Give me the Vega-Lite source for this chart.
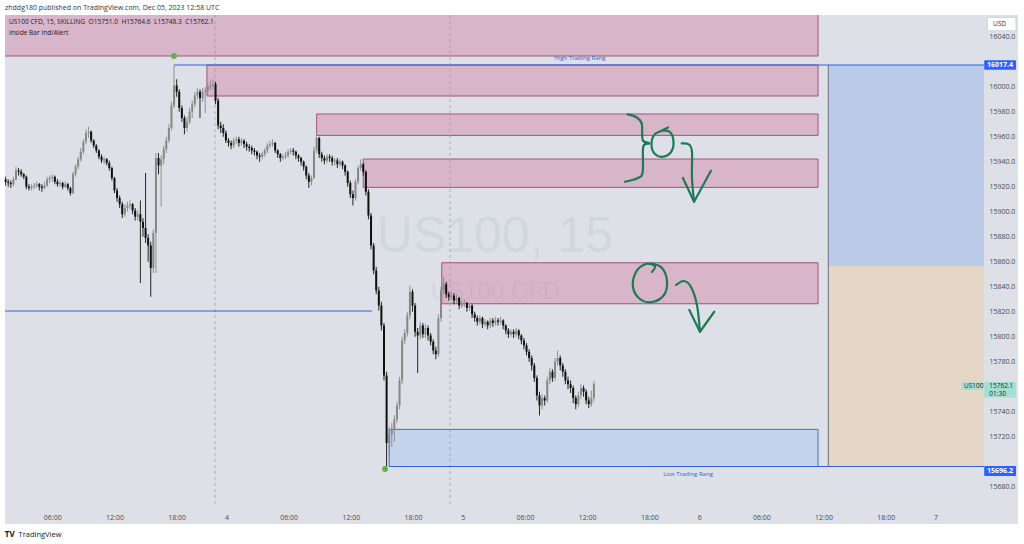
{
"$schema": "https://vega.github.io/schema/vega-lite/v6.json",
"width": 979, "height": 490,
"autosize": "none",
"padding": {"left": 5, "top": 15, "right": 40, "bottom": 39},
"background": "#ffffff",
"title": {"text": "zhddg180 published on TradingView.com, Dec 05, 2023 12:58 UTC", "anchor": "start", "frame": "group", "offset": 4, "fontSize": 7, "fontWeight": "normal", "color": "#333333", "font": "Open Sans"},
"config": {"view": {"stroke": null}, "font": "Open Sans", "axis": {"labelOverlap": false, "labelFlush": false, "labelBound": false}},
"datasets": {
"panel": [{"t0": 1.44, "t1": 99.16, "p0": 15650.2, "p1": 16057.4}],
"zones": [
{"kind": "supply", "t0": -5, "t1": 79.87, "p0": 16024.6, "p1": 16075},
{"kind": "supply", "t0": 20.92, "t1": 79.87, "p0": 15992.6, "p1": 16017.4},
{"kind": "supply", "t0": 31.5, "t1": 79.87, "p0": 15961.1, "p1": 15978.2},
{"kind": "supply", "t0": 36.0, "t1": 79.87, "p0": 15919.5, "p1": 15942.2},
{"kind": "supply", "t0": 43.57, "t1": 79.87, "p0": 15826.4, "p1": 15859.2},
{"kind": "demand", "t0": 38.5, "t1": 79.87, "p0": 15696.2, "p1": 15725.9},
{"kind": "target", "t0": 80.86, "t1": 95.88, "p0": 15856.6, "p1": 16017.4},
{"kind": "stop", "t0": 80.86, "t1": 95.88, "p0": 15696.2, "p1": 15856.6}
],
"levels": [
{"name": "high", "t0": 17.74, "t1": 95.88, "p": 16017.4},
{"name": "low", "t0": 38.5, "t1": 95.88, "p": 15696.2},
{"name": "mid", "t0": 1.44, "t1": 36.84, "p": 15820.6}
],
"edge": [{"t": 80.86, "p0": 15696.2, "p1": 16017.4}],
"days": [{"t": 21.7}, {"t": 44.37}],
"pivots": [{"t": 17.74, "p": 16024.6}, {"t": 38.1, "p": 15694.2}],
"candles": [
{"t":1.5,"o":15926,"h":15928,"l":15921,"c":15924},
{"t":1.75,"o":15924,"h":15926,"l":15920,"c":15923},
{"t":2,"o":15923,"h":15925,"l":15919,"c":15922},
{"t":2.25,"o":15922,"h":15928,"l":15920,"c":15926},
{"t":2.5,"o":15926,"h":15936,"l":15925,"c":15933},
{"t":2.75,"o":15933,"h":15935,"l":15929,"c":15932},
{"t":3,"o":15932,"h":15934,"l":15928,"c":15930},
{"t":3.25,"o":15930,"h":15931,"l":15926,"c":15928},
{"t":3.5,"o":15928,"h":15929,"l":15918,"c":15920},
{"t":3.75,"o":15920,"h":15922,"l":15917,"c":15919},
{"t":4,"o":15919,"h":15922,"l":15917,"c":15920},
{"t":4.25,"o":15920,"h":15923,"l":15918,"c":15921},
{"t":4.5,"o":15921,"h":15924,"l":15919,"c":15922},
{"t":4.75,"o":15922,"h":15923,"l":15917,"c":15920},
{"t":5,"o":15920,"h":15922,"l":15916,"c":15919},
{"t":5.25,"o":15919,"h":15924,"l":15918,"c":15921},
{"t":5.5,"o":15921,"h":15928,"l":15920,"c":15926},
{"t":5.75,"o":15926,"h":15929,"l":15923,"c":15927},
{"t":6,"o":15927,"h":15930,"l":15924,"c":15928},
{"t":6.25,"o":15928,"h":15929,"l":15922,"c":15924},
{"t":6.5,"o":15924,"h":15926,"l":15920,"c":15922},
{"t":6.75,"o":15922,"h":15925,"l":15920,"c":15923},
{"t":7,"o":15923,"h":15924,"l":15918,"c":15920},
{"t":7.25,"o":15920,"h":15924,"l":15919,"c":15922},
{"t":7.5,"o":15922,"h":15923,"l":15917,"c":15919},
{"t":7.75,"o":15919,"h":15920,"l":15913,"c":15915},
{"t":8,"o":15915,"h":15932,"l":15914,"c":15930},
{"t":8.25,"o":15930,"h":15938,"l":15928,"c":15936},
{"t":8.5,"o":15936,"h":15944,"l":15934,"c":15942},
{"t":8.75,"o":15942,"h":15951,"l":15940,"c":15948},
{"t":9,"o":15948,"h":15958,"l":15946,"c":15956},
{"t":9.25,"o":15956,"h":15966,"l":15954,"c":15963},
{"t":9.5,"o":15963,"h":15968,"l":15959,"c":15964},
{"t":9.75,"o":15964,"h":15965,"l":15955,"c":15957},
{"t":10,"o":15957,"h":15958,"l":15951,"c":15953},
{"t":10.25,"o":15953,"h":15954,"l":15947,"c":15949},
{"t":10.5,"o":15949,"h":15950,"l":15942,"c":15944},
{"t":10.75,"o":15944,"h":15946,"l":15939,"c":15941},
{"t":11,"o":15941,"h":15944,"l":15938,"c":15942},
{"t":11.25,"o":15942,"h":15943,"l":15937,"c":15939},
{"t":11.5,"o":15939,"h":15941,"l":15933,"c":15935},
{"t":11.75,"o":15935,"h":15936,"l":15925,"c":15927},
{"t":12,"o":15927,"h":15928,"l":15915,"c":15917},
{"t":12.25,"o":15917,"h":15919,"l":15908,"c":15911},
{"t":12.5,"o":15911,"h":15913,"l":15903,"c":15906},
{"t":12.75,"o":15906,"h":15908,"l":15895,"c":15898},
{"t":13,"o":15898,"h":15906,"l":15896,"c":15903},
{"t":13.25,"o":15903,"h":15908,"l":15900,"c":15905},
{"t":13.5,"o":15905,"h":15909,"l":15902,"c":15906},
{"t":13.75,"o":15906,"h":15907,"l":15898,"c":15901},
{"t":14,"o":15901,"h":15903,"l":15893,"c":15896},
{"t":14.25,"o":15896,"h":15901,"l":15893,"c":15898},
{"t":14.5,"o":15898,"h":15909,"l":15843,"c":15892},
{"t":14.75,"o":15892,"h":15895,"l":15880,"c":15887},
{"t":15,"o":15887,"h":15931,"l":15875,"c":15879},
{"t":15.25,"o":15879,"h":15882,"l":15860,"c":15873},
{"t":15.5,"o":15873,"h":15876,"l":15832,"c":15855},
{"t":15.75,"o":15855,"h":15886,"l":15851,"c":15883},
{"t":16,"o":15883,"h":15947,"l":15851,"c":15943},
{"t":16.25,"o":15943,"h":15947,"l":15930,"c":15937},
{"t":16.5,"o":15937,"h":15945,"l":15904,"c":15942},
{"t":16.75,"o":15942,"h":15953,"l":15938,"c":15950},
{"t":17,"o":15950,"h":15960,"l":15947,"c":15957},
{"t":17.25,"o":15957,"h":15970,"l":15955,"c":15967},
{"t":17.5,"o":15967,"h":15988,"l":15965,"c":15985},
{"t":17.75,"o":15985,"h":16017.4,"l":15983,"c":16001},
{"t":18,"o":16001,"h":16006,"l":15992,"c":15996},
{"t":18.25,"o":15996,"h":15998,"l":15980,"c":15983},
{"t":18.5,"o":15983,"h":15985,"l":15972,"c":15975},
{"t":18.75,"o":15975,"h":15977,"l":15962,"c":15967},
{"t":19,"o":15967,"h":15976,"l":15964,"c":15972},
{"t":19.25,"o":15972,"h":15983,"l":15970,"c":15980},
{"t":19.5,"o":15980,"h":15989,"l":15975,"c":15986},
{"t":19.75,"o":15986,"h":15996,"l":15984,"c":15993},
{"t":20,"o":15993,"h":15999,"l":15990,"c":15996},
{"t":20.25,"o":15996,"h":15998,"l":15975,"c":15991},
{"t":20.5,"o":15991,"h":15999,"l":15988,"c":15996},
{"t":20.75,"o":15996,"h":16000,"l":15979,"c":15997},
{"t":21,"o":15997,"h":16003,"l":15994,"c":16000},
{"t":21.25,"o":16000,"h":16005,"l":15997,"c":16001},
{"t":21.5,"o":16001,"h":16006,"l":15998,"c":16002},
{"t":21.75,"o":16002,"h":16004,"l":15986,"c":15989},
{"t":22,"o":15989,"h":15991,"l":15966,"c":15969},
{"t":22.25,"o":15969,"h":15972,"l":15963,"c":15967},
{"t":22.5,"o":15967,"h":15970,"l":15960,"c":15963},
{"t":22.75,"o":15963,"h":15965,"l":15955,"c":15957},
{"t":23,"o":15957,"h":15959,"l":15952,"c":15955},
{"t":23.25,"o":15955,"h":15957,"l":15950,"c":15953},
{"t":23.5,"o":15953,"h":15959,"l":15951,"c":15957},
{"t":23.75,"o":15957,"h":15960,"l":15954,"c":15958},
{"t":24,"o":15958,"h":15960,"l":15952,"c":15955},
{"t":24.25,"o":15955,"h":15959,"l":15953,"c":15957},
{"t":24.5,"o":15957,"h":15958,"l":15951,"c":15954},
{"t":24.75,"o":15954,"h":15956,"l":15949,"c":15952},
{"t":25,"o":15952,"h":15954,"l":15948,"c":15951},
{"t":25.25,"o":15951,"h":15953,"l":15946,"c":15949},
{"t":25.5,"o":15949,"h":15951,"l":15945,"c":15948},
{"t":25.75,"o":15948,"h":15949,"l":15942,"c":15945},
{"t":26,"o":15945,"h":15947,"l":15940,"c":15944},
{"t":26.25,"o":15944,"h":15948,"l":15942,"c":15946},
{"t":26.5,"o":15946,"h":15951,"l":15944,"c":15949},
{"t":26.75,"o":15949,"h":15955,"l":15947,"c":15953},
{"t":27,"o":15953,"h":15957,"l":15951,"c":15954},
{"t":27.25,"o":15954,"h":15958,"l":15952,"c":15955},
{"t":27.5,"o":15955,"h":15956,"l":15947,"c":15949},
{"t":27.75,"o":15949,"h":15950,"l":15943,"c":15946},
{"t":28,"o":15946,"h":15947,"l":15940,"c":15943},
{"t":28.25,"o":15943,"h":15946,"l":15941,"c":15944},
{"t":28.5,"o":15944,"h":15948,"l":15942,"c":15945},
{"t":28.75,"o":15945,"h":15950,"l":15943,"c":15948},
{"t":29,"o":15948,"h":15951,"l":15946,"c":15949},
{"t":29.25,"o":15949,"h":15951,"l":15945,"c":15948},
{"t":29.5,"o":15948,"h":15949,"l":15942,"c":15945},
{"t":29.75,"o":15945,"h":15946,"l":15940,"c":15943},
{"t":30,"o":15943,"h":15944,"l":15937,"c":15940},
{"t":30.25,"o":15940,"h":15941,"l":15933,"c":15936},
{"t":30.5,"o":15936,"h":15937,"l":15926,"c":15929},
{"t":30.75,"o":15929,"h":15931,"l":15919,"c":15924},
{"t":31,"o":15924,"h":15929,"l":15921,"c":15927},
{"t":31.25,"o":15927,"h":15952,"l":15926,"c":15949},
{"t":31.5,"o":15949,"h":15965,"l":15947,"c":15959},
{"t":31.75,"o":15959,"h":15960,"l":15943,"c":15946},
{"t":32,"o":15946,"h":15948,"l":15940,"c":15943},
{"t":32.25,"o":15943,"h":15945,"l":15938,"c":15941},
{"t":32.5,"o":15941,"h":15946,"l":15939,"c":15944},
{"t":32.75,"o":15944,"h":15946,"l":15940,"c":15943},
{"t":33,"o":15943,"h":15945,"l":15937,"c":15940},
{"t":33.25,"o":15940,"h":15943,"l":15937,"c":15941},
{"t":33.5,"o":15941,"h":15943,"l":15935,"c":15938},
{"t":33.75,"o":15938,"h":15942,"l":15936,"c":15940},
{"t":34,"o":15940,"h":15941,"l":15934,"c":15937},
{"t":34.25,"o":15937,"h":15938,"l":15929,"c":15932},
{"t":34.5,"o":15932,"h":15933,"l":15920,"c":15923},
{"t":34.75,"o":15923,"h":15925,"l":15911,"c":15914},
{"t":35,"o":15914,"h":15917,"l":15905,"c":15911},
{"t":35.25,"o":15911,"h":15926,"l":15909,"c":15924},
{"t":35.5,"o":15924,"h":15937,"l":15922,"c":15935},
{"t":35.75,"o":15935,"h":15942,"l":15933,"c":15938},
{"t":36,"o":15938,"h":15939,"l":15929,"c":15932},
{"t":36.25,"o":15932,"h":15933,"l":15913,"c":15916},
{"t":36.5,"o":15916,"h":15918,"l":15894,"c":15897},
{"t":36.75,"o":15897,"h":15899,"l":15870,"c":15873},
{"t":37,"o":15873,"h":15875,"l":15850,"c":15853},
{"t":37.25,"o":15853,"h":15856,"l":15834,"c":15837},
{"t":37.5,"o":15837,"h":15840,"l":15821,"c":15825},
{"t":37.75,"o":15825,"h":15828,"l":15805,"c":15809},
{"t":38,"o":15809,"h":15811,"l":15765,"c":15769},
{"t":38.25,"o":15769,"h":15772,"l":15696.2,"c":15715},
{"t":38.5,"o":15715,"h":15728,"l":15704,"c":15722},
{"t":38.75,"o":15722,"h":15731,"l":15712,"c":15726},
{"t":39,"o":15726,"h":15737,"l":15716,"c":15734},
{"t":39.25,"o":15734,"h":15748,"l":15731,"c":15745},
{"t":39.5,"o":15745,"h":15768,"l":15742,"c":15765},
{"t":39.75,"o":15765,"h":15800,"l":15762,"c":15797},
{"t":40,"o":15797,"h":15806,"l":15794,"c":15803},
{"t":40.25,"o":15803,"h":15820,"l":15800,"c":15817},
{"t":40.5,"o":15817,"h":15841,"l":15814,"c":15836},
{"t":40.75,"o":15836,"h":15838,"l":15820,"c":15825},
{"t":41,"o":15825,"h":15827,"l":15800,"c":15804},
{"t":41.25,"o":15804,"h":15807,"l":15771,"c":15801},
{"t":41.5,"o":15801,"h":15812,"l":15798,"c":15809},
{"t":41.75,"o":15809,"h":15811,"l":15799,"c":15802},
{"t":42,"o":15802,"h":15810,"l":15799,"c":15807},
{"t":42.25,"o":15807,"h":15809,"l":15797,"c":15801},
{"t":42.5,"o":15801,"h":15803,"l":15793,"c":15796},
{"t":42.75,"o":15796,"h":15798,"l":15786,"c":15789},
{"t":43,"o":15789,"h":15792,"l":15782,"c":15786},
{"t":43.25,"o":15786,"h":15818,"l":15784,"c":15815},
{"t":43.5,"o":15815,"h":15840,"l":15812,"c":15837},
{"t":43.75,"o":15837,"h":15848,"l":15834,"c":15842},
{"t":44,"o":15842,"h":15844,"l":15831,"c":15834},
{"t":44.25,"o":15834,"h":15836,"l":15829,"c":15832},
{"t":44.5,"o":15832,"h":15836,"l":15830,"c":15833},
{"t":44.75,"o":15833,"h":15835,"l":15826,"c":15829},
{"t":45,"o":15829,"h":15834,"l":15827,"c":15831},
{"t":45.25,"o":15831,"h":15832,"l":15822,"c":15825},
{"t":45.5,"o":15825,"h":15829,"l":15823,"c":15826},
{"t":45.75,"o":15826,"h":15830,"l":15824,"c":15827},
{"t":46,"o":15827,"h":15828,"l":15820,"c":15823},
{"t":46.25,"o":15823,"h":15827,"l":15821,"c":15825},
{"t":46.5,"o":15825,"h":15826,"l":15815,"c":15818},
{"t":46.75,"o":15818,"h":15820,"l":15812,"c":15815},
{"t":47,"o":15815,"h":15817,"l":15809,"c":15812},
{"t":47.25,"o":15812,"h":15817,"l":15810,"c":15815},
{"t":47.5,"o":15815,"h":15816,"l":15807,"c":15810},
{"t":47.75,"o":15810,"h":15814,"l":15808,"c":15812},
{"t":48,"o":15812,"h":15813,"l":15806,"c":15809},
{"t":48.25,"o":15809,"h":15815,"l":15807,"c":15813},
{"t":48.5,"o":15813,"h":15815,"l":15808,"c":15811},
{"t":48.75,"o":15811,"h":15816,"l":15809,"c":15813},
{"t":49,"o":15813,"h":15815,"l":15809,"c":15812},
{"t":49.25,"o":15812,"h":15816,"l":15810,"c":15813},
{"t":49.5,"o":15813,"h":15814,"l":15806,"c":15809},
{"t":49.75,"o":15809,"h":15810,"l":15802,"c":15805},
{"t":50,"o":15805,"h":15807,"l":15799,"c":15802},
{"t":50.25,"o":15802,"h":15806,"l":15800,"c":15804},
{"t":50.5,"o":15804,"h":15806,"l":15799,"c":15802},
{"t":50.75,"o":15802,"h":15807,"l":15800,"c":15805},
{"t":51,"o":15805,"h":15806,"l":15798,"c":15801},
{"t":51.25,"o":15801,"h":15802,"l":15794,"c":15797},
{"t":51.5,"o":15797,"h":15799,"l":15790,"c":15793},
{"t":51.75,"o":15793,"h":15795,"l":15785,"c":15788},
{"t":52,"o":15788,"h":15790,"l":15780,"c":15783},
{"t":52.25,"o":15783,"h":15785,"l":15773,"c":15777},
{"t":52.5,"o":15777,"h":15779,"l":15764,"c":15767},
{"t":52.75,"o":15767,"h":15769,"l":15749,"c":15753},
{"t":53,"o":15753,"h":15756,"l":15737,"c":15745},
{"t":53.25,"o":15745,"h":15754,"l":15742,"c":15751},
{"t":53.5,"o":15751,"h":15753,"l":15745,"c":15749},
{"t":53.75,"o":15749,"h":15768,"l":15747,"c":15765},
{"t":54,"o":15765,"h":15775,"l":15762,"c":15772},
{"t":54.25,"o":15772,"h":15774,"l":15764,"c":15767},
{"t":54.5,"o":15767,"h":15783,"l":15765,"c":15780},
{"t":54.75,"o":15780,"h":15789,"l":15777,"c":15783},
{"t":55,"o":15783,"h":15785,"l":15773,"c":15777},
{"t":55.25,"o":15777,"h":15779,"l":15768,"c":15772},
{"t":55.5,"o":15772,"h":15774,"l":15762,"c":15765},
{"t":55.75,"o":15765,"h":15768,"l":15758,"c":15762},
{"t":56,"o":15762,"h":15765,"l":15755,"c":15759},
{"t":56.25,"o":15759,"h":15761,"l":15747,"c":15751},
{"t":56.5,"o":15751,"h":15753,"l":15742,"c":15746},
{"t":56.75,"o":15746,"h":15756,"l":15744,"c":15753},
{"t":57,"o":15753,"h":15762,"l":15750,"c":15759},
{"t":57.25,"o":15759,"h":15761,"l":15752,"c":15756},
{"t":57.5,"o":15756,"h":15758,"l":15746,"c":15749},
{"t":57.75,"o":15749,"h":15752,"l":15743,"c":15746},
{"t":58,"o":15746,"h":15757,"l":15744,"c":15751},
{"t":58.25,"o":15751,"h":15764.6,"l":15748.3,"c":15762.1}
],
"ink": [
{"id":"b","i":0,"t":61.51,"p":15977.9},{"id":"b","i":1,"t":62.31,"p":15975.8},{"id":"b","i":2,"t":62.86,"p":15970.7},{"id":"b","i":3,"t":62.96,"p":15957.4},{"id":"b","i":4,"t":63.59,"p":15954.7},{"id":"b","i":5,"t":63.01,"p":15952.0},{"id":"b","i":6,"t":62.96,"p":15932.0},{"id":"b","i":7,"t":62.5,"p":15927.0},{"id":"b","i":8,"t":61.25,"p":15924.0},
{"id":"c1","i":0,"t":64.87,"p":15964.8},{"id":"c1","i":1,"t":65.59,"p":15963.8},{"id":"c1","i":2,"t":65.93,"p":15955.8},{"id":"c1","i":3,"t":65.69,"p":15947.8},{"id":"c1","i":4,"t":64.91,"p":15944.0},{"id":"c1","i":5,"t":64.14,"p":15946.2},{"id":"c1","i":6,"t":63.8,"p":15953.4},{"id":"c1","i":7,"t":64.05,"p":15961.4},{"id":"c1","i":8,"t":64.72,"p":15964.6},{"id":"c1","i":9,"t":65.4,"p":15967.4},
{"id":"a1","i":0,"t":66.72,"p":15954.7},{"id":"a1","i":1,"t":67.42,"p":15953.8},{"id":"a1","i":2,"t":67.71,"p":15947.8},{"id":"a1","i":3,"t":67.71,"p":15927.0},{"id":"a1","i":4,"t":67.91,"p":15908.0},
{"id":"c2","i":0,"t":63.85,"p":15858.6},{"id":"c2","i":1,"t":64.82,"p":15855.0},{"id":"c2","i":2,"t":65.3,"p":15844.6},{"id":"c2","i":3,"t":65.01,"p":15833.4},{"id":"c2","i":4,"t":63.85,"p":15827.8},{"id":"c2","i":5,"t":62.69,"p":15830.2},{"id":"c2","i":6,"t":62.02,"p":15839.8},{"id":"c2","i":7,"t":62.31,"p":15851.8},{"id":"c2","i":8,"t":63.27,"p":15858.2},{"id":"c2","i":9,"t":64.14,"p":15856.6},{"id":"c2","i":10,"t":63.85,"p":15851.8},
{"id":"a2","i":0,"t":66.17,"p":15841.4},{"id":"a2","i":1,"t":66.94,"p":15844.6},{"id":"a2","i":2,"t":67.62,"p":15839.8},{"id":"a2","i":3,"t":68.19,"p":15825.4},{"id":"a2","i":4,"t":68.48,"p":15804.0}
],
"heads": [
{"id":"h1","i":0,"t":66.84,"p":15927.0},{"id":"h1","i":1,"t":67.91,"p":15908.0},{"id":"h1","i":2,"t":69.54,"p":15932.8},
{"id":"h2","i":0,"t":67.45,"p":15821.4},{"id":"h2","i":1,"t":68.48,"p":15804.0},{"id":"h2","i":2,"t":69.86,"p":15820.0}
],
"legendText": [
{"text": "US100 CFD, 15, SKILLING \u00a0O15751.0 \u00a0H15764.6 \u00a0L15748.3 \u00a0C15762.1", "t": 1.82, "p": 16051.8},
{"text": "Inside Bar Ind/Alert", "t": 1.82, "p": 16043.0}
],
"rangeText": [
{"text": "High Trading Rang", "t": 56.9, "p": 16023.0},
{"text": "Low Trading Rang", "t": 67.33, "p": 15690.2}
],
"wm1": [{"text": "US100, 15", "t": 48.7, "p": 15879.8}],
"wm2": [{"text": "US100 CFD", "t": 48.75, "p": 15835.8}],
"blueTags": [
{"text": "16017.4", "t0": 95.9, "t1": 98.97, "p0": 16013.6, "p1": 16021.2, "tm": 97.43, "pm": 16017.4},
{"text": "15696.2", "t0": 95.9, "t1": 98.97, "p0": 15688.6, "p1": 15696.6, "tm": 97.43, "pm": 15692.6}
],
"tealTags": [
{"t0": 95.9, "t1": 98.97, "p0": 15751.5, "p1": 15764.0},
{"t0": 93.73, "t1": 95.81, "p0": 15757.4, "p1": 15763.5}
],
"tealText": [
{"text": "15762.1", "t": 96.39, "p": 15760.6},
{"text": "01:30", "t": 96.39, "p": 15754.2},
{"text": "US100", "t": 93.95, "p": 15760.5}
],
"usd": [{"text": "USD", "t0": 96.2, "t1": 98.97, "p0": 16044.8, "p1": 16055.5, "tm": 96.75, "pm": 16050.1}],
"logo": [{"mark": "TV", "text": "TradingView", "t": 1.9, "t2": 2.75, "p": 15641.4}]
},
"layer": [
{"data": {"name": "panel"}, "mark": {"type": "rect", "fill": "#dde0e7"},
 "encoding": {
  "x": {"field": "t0", "type": "quantitative", "scale": {"domain": [1.44, 95.88], "nice": false, "zero": false},
        "axis": {"orient": "bottom", "title": null, "tickCount": 60, "values": [6,12,18,22.8,28.8,34.8,40.8,45.6,51.6,57.6,63.6,68.4,74.4,80.4,86.4,91.2],
                 "labelExpr": "['06:00','12:00','18:00','4','06:00','12:00','18:00','5','06:00','12:00','18:00','6','06:00','12:00','18:00','7'][indexof([6,12,18,22.8,28.8,34.8,40.8,45.6,51.6,57.6,63.6,68.4,74.4,80.4,86.4,91.2], datum.value)]",
                 "grid": false, "domain": false, "ticks": false, "tickSize": 0, "labelPadding": 8, "labelFontSize": 7, "labelColor": "#4a4a4a", "labelOverlap": false, "labelFlush": false, "zindex": 1}},
  "x2": {"field": "t1"},
  "y": {"field": "p0", "type": "quantitative", "scale": {"domain": [15665.4, 16057.4], "nice": false, "zero": false},
        "axis": {"orient": "right", "title": null, "tickCount": 60, "values": [15680,15720,15740,15780,15800,15820,15840,15860,15880,15900,15920,15940,15960,15980,16000,16040],
                 "format": ".1f", "grid": false, "domain": false, "ticks": false, "tickSize": 0, "labelPadding": 5, "labelFontSize": 7, "labelColor": "#4a4a4a", "labelAlign": "left", "labelOverlap": false, "labelFlush": false, "zindex": 1}},
  "y2": {"field": "p1"}}},
{"data": {"name": "zones"}, "mark": {"type": "rect", "clip": true, "strokeWidth": 1},
 "encoding": {
  "x": {"field": "t0", "type": "quantitative"}, "x2": {"field": "t1"},
  "y": {"field": "p0", "type": "quantitative"}, "y2": {"field": "p1"},
  "fill": {"field": "kind", "type": "nominal", "legend": null, "scale": {"domain": ["supply","demand","target","stop"], "range": ["#d9b5c9","#c4d4ec","#b9cbe8","#e5d6c5"]}},
  "stroke": {"field": "kind", "type": "nominal", "legend": null, "scale": {"domain": ["supply","demand","target","stop"], "range": ["#a6517d","#3f6fd3","rgba(0,0,0,0)","rgba(0,0,0,0)"]}}}},
{"data": {"name": "wm1"}, "mark": {"type": "text", "font": "Liberation Sans", "fontSize": 50, "color": "#8e95a8", "opacity": 0.13, "align": "center", "baseline": "middle"},
 "encoding": {"x": {"field": "t", "type": "quantitative"}, "y": {"field": "p", "type": "quantitative"}, "text": {"field": "text"}}},
{"data": {"name": "wm2"}, "mark": {"type": "text", "font": "Liberation Sans", "fontSize": 24, "color": "#8e95a8", "opacity": 0.13, "align": "center", "baseline": "middle"},
 "encoding": {"x": {"field": "t", "type": "quantitative"}, "y": {"field": "p", "type": "quantitative"}, "text": {"field": "text"}}},
{"data": {"name": "days"}, "mark": {"type": "rule", "color": "#9a9ea8", "strokeDash": [3, 3], "strokeWidth": 0.8},
 "encoding": {"x": {"field": "t", "type": "quantitative"}}},
{"data": {"name": "levels"}, "mark": {"type": "rule", "color": "#2f62e0", "strokeWidth": 1.2},
 "encoding": {"x": {"field": "t0", "type": "quantitative"}, "x2": {"field": "t1"}, "y": {"field": "p", "type": "quantitative"}}},
{"data": {"name": "edge"}, "mark": {"type": "rule", "color": "#6b6e78", "strokeWidth": 1},
 "encoding": {"x": {"field": "t", "type": "quantitative"}, "y": {"field": "p0", "type": "quantitative"}, "y2": {"field": "p1"}}},
{"data": {"name": "candles"}, "mark": {"type": "rule", "strokeWidth": 0.9},
 "encoding": {"x": {"field": "t", "type": "quantitative"}, "y": {"field": "l", "type": "quantitative"}, "y2": {"field": "h"},
  "color": {"condition": {"test": "datum.c >= datum.o", "value": "#878787"}, "value": "#111111"}}},
{"data": {"name": "candles"}, "mark": {"type": "rule", "strokeWidth": 2},
 "encoding": {"x": {"field": "t", "type": "quantitative"}, "y": {"field": "o", "type": "quantitative"}, "y2": {"field": "c"},
  "color": {"condition": {"test": "datum.c >= datum.o", "value": "#878787"}, "value": "#111111"}}},
{"data": {"name": "pivots"}, "mark": {"type": "point", "filled": true, "color": "#6aab4c", "opacity": 1, "size": 34},
 "encoding": {"x": {"field": "t", "type": "quantitative"}, "y": {"field": "p", "type": "quantitative"}}},
{"data": {"name": "ink"}, "mark": {"type": "line", "interpolate": "cardinal", "color": "#1d7a55", "strokeWidth": 2.2, "strokeCap": "round"},
 "encoding": {"x": {"field": "t", "type": "quantitative"}, "y": {"field": "p", "type": "quantitative"}, "detail": {"field": "id"}, "order": {"field": "i", "type": "quantitative"}}},
{"data": {"name": "heads"}, "mark": {"type": "line", "color": "#1d7a55", "strokeWidth": 2.2, "strokeCap": "round", "strokeJoin": "round"},
 "encoding": {"x": {"field": "t", "type": "quantitative"}, "y": {"field": "p", "type": "quantitative"}, "detail": {"field": "id"}, "order": {"field": "i", "type": "quantitative"}}},
{"data": {"name": "legendText"}, "mark": {"type": "text", "fontSize": 6.6, "color": "#222222", "align": "left", "baseline": "middle"},
 "encoding": {"x": {"field": "t", "type": "quantitative"}, "y": {"field": "p", "type": "quantitative"}, "text": {"field": "text"}}},
{"data": {"name": "rangeText"}, "mark": {"type": "text", "fontSize": 6, "color": "#2f62e0", "align": "center", "baseline": "middle"},
 "encoding": {"x": {"field": "t", "type": "quantitative"}, "y": {"field": "p", "type": "quantitative"}, "text": {"field": "text"}}},
{"data": {"name": "blueTags"}, "mark": {"type": "rect", "fill": "#2962ff", "cornerRadius": 1},
 "encoding": {"x": {"field": "t0", "type": "quantitative"}, "x2": {"field": "t1"}, "y": {"field": "p0", "type": "quantitative"}, "y2": {"field": "p1"}}},
{"data": {"name": "blueTags"}, "mark": {"type": "text", "fontSize": 7, "fontWeight": "bold", "color": "#ffffff", "align": "center", "baseline": "middle"},
 "encoding": {"x": {"field": "tm", "type": "quantitative"}, "y": {"field": "pm", "type": "quantitative"}, "text": {"field": "text"}}},
{"data": {"name": "tealTags"}, "mark": {"type": "rect", "fill": "#a5dfd3"},
 "encoding": {"x": {"field": "t0", "type": "quantitative"}, "x2": {"field": "t1"}, "y": {"field": "p0", "type": "quantitative"}, "y2": {"field": "p1"}}},
{"data": {"name": "tealText"}, "mark": {"type": "text", "fontSize": 6.5, "color": "#1f2a2a", "align": "left", "baseline": "middle"},
 "encoding": {"x": {"field": "t", "type": "quantitative"}, "y": {"field": "p", "type": "quantitative"}, "text": {"field": "text"}}},
{"data": {"name": "usd"}, "mark": {"type": "rect", "fill": "#ffffff", "stroke": "#d0d3da", "cornerRadius": 2},
 "encoding": {"x": {"field": "t0", "type": "quantitative"}, "x2": {"field": "t1"}, "y": {"field": "p0", "type": "quantitative"}, "y2": {"field": "p1"}}},
{"data": {"name": "usd"}, "mark": {"type": "text", "fontSize": 6.5, "color": "#333333", "align": "left", "baseline": "middle"},
 "encoding": {"x": {"field": "tm", "type": "quantitative"}, "y": {"field": "pm", "type": "quantitative"}, "text": {"field": "text"}}},
{"data": {"name": "logo"}, "mark": {"type": "text", "fontSize": 8, "fontWeight": "bold", "color": "#131722", "align": "center", "baseline": "middle"},
 "encoding": {"x": {"field": "t", "type": "quantitative"}, "y": {"field": "p", "type": "quantitative"}, "text": {"field": "mark"}}},
{"data": {"name": "logo"}, "mark": {"type": "text", "fontSize": 7.5, "color": "#131722", "align": "left", "baseline": "middle"},
 "encoding": {"x": {"field": "t2", "type": "quantitative"}, "y": {"field": "p", "type": "quantitative"}, "text": {"field": "text"}}}
]
}
